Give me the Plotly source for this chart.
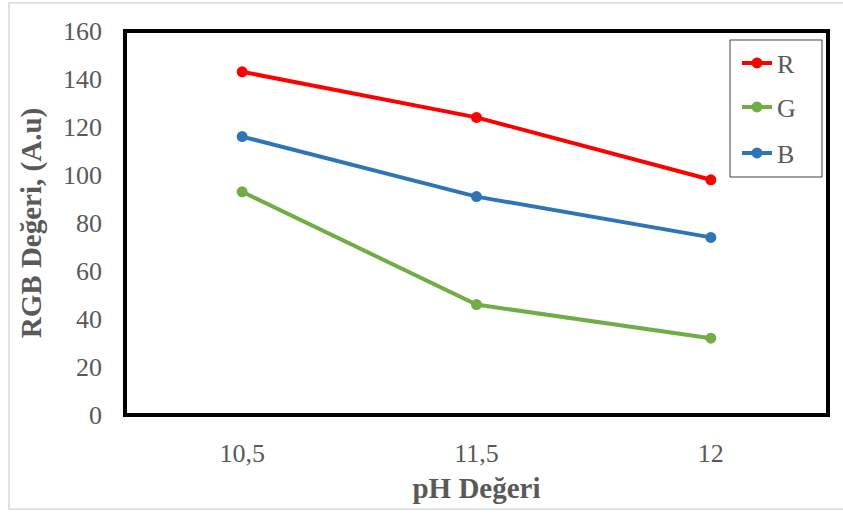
import plotly.graph_objects as go

# pH levels and measured RGB channel values (A.u)
ph_levels = ["10,5", "11,5", "12"]
r_values = [143, 124, 98]
g_values = [93, 46, 32]
b_values = [116, 91, 74]

series = [
    ("R", r_values, "#FF0000", "legend"),
    ("G", g_values, "#70AD47", "legend2"),
    ("B", b_values, "#2E75B6", "legend3"),
]

fig = go.Figure()
for name, vals, color, leg in series:
    fig.add_trace(go.Scatter(
        x=ph_levels, y=vals, name=name, legend=leg,
        mode="lines+markers",
        line=dict(color=color, width=4),
        marker=dict(color=color, size=11),
    ))

serif = "Liberation Serif, Times New Roman, serif"

# plot area in pixels: x 125..828, y 31..415
def px_x(p):
    return (p - 125) / 703

def px_y(p):
    return (415 - p) / 384

def legend_at(ycenter):
    return dict(
        x=px_x(737), y=px_y(ycenter), xanchor="left", yanchor="middle",
        bgcolor="rgba(0,0,0,0)", borderwidth=0,
        font=dict(family=serif, size=26, color="#595959"),
    )

fig.update_layout(
    width=843, height=514,
    margin=dict(l=125, r=15, t=31, b=99),
    paper_bgcolor="white", plot_bgcolor="white",
    font=dict(family=serif, size=26, color="#595959"),
    showlegend=True,
    legend=legend_at(63),
    legend2=legend_at(107),
    legend3=legend_at(153),
    xaxis=dict(
        type="category", range=[-0.5, 2.5],
        showgrid=False, zeroline=False, showline=False,
        ticks="", ticklabelstandoff=20,
        title=dict(text="<b>pH Değeri</b>", font=dict(family=serif, size=29, color="#595959"), standoff=10),
    ),
    yaxis=dict(
        range=[0, 160], dtick=20, showgrid=False, zeroline=False, showline=False,
        ticks="", ticklabelstandoff=22,
        title=dict(text="<b>RGB Değeri, (A.u)</b>", font=dict(family=serif, size=29, color="#595959"), standoff=12),
    ),
    shapes=[
        # legend frame
        dict(type="rect", xref="paper", yref="paper",
             x0=px_x(730), x1=px_x(822), y0=px_y(177), y1=px_y(40),
             line=dict(color="#404040", width=1), fillcolor="white", layer="below"),
        # plot frame
        dict(type="rect", xref="paper", yref="paper", x0=0, x1=1, y0=0, y1=1,
             line=dict(color="black", width=4), layer="above"),
        # chart border
        dict(type="rect", xref="paper", yref="paper",
             x0=px_x(9), x1=px_x(850), y0=px_y(509), y1=px_y(3),
             line=dict(color="#D9D9D9", width=1.5), layer="below"),
    ],
)

fig.write_html("out.html")
